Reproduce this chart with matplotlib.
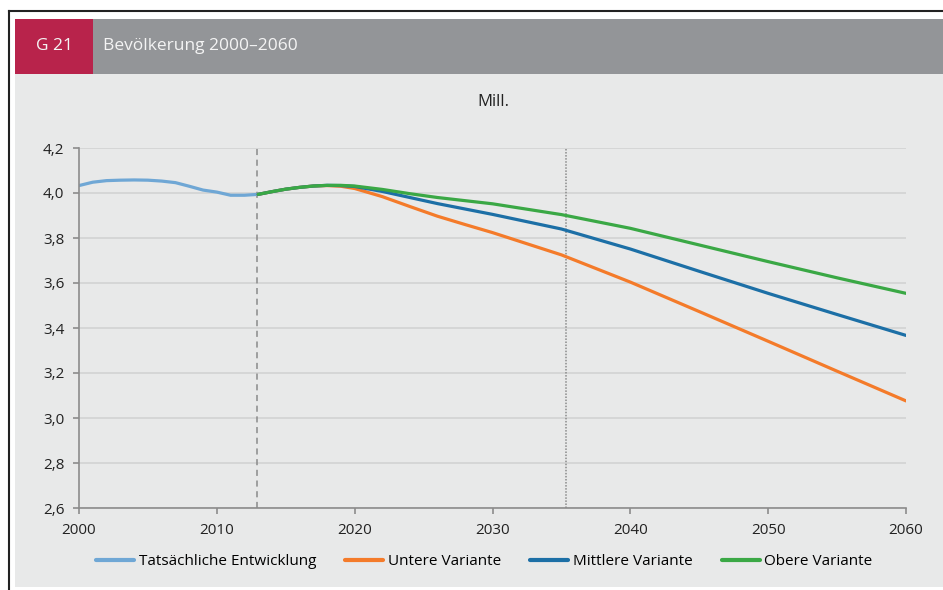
import matplotlib
matplotlib.use("Agg")
import matplotlib.pyplot as plt
from matplotlib.patches import Rectangle
from matplotlib.lines import Line2D
from matplotlib.ticker import FuncFormatter

plt.rcParams['font.family'] = ['Open Sans', 'DejaVu Sans']

# Tatsaechliche Entwicklung (Mill.)
years_actual = [2000, 2001, 2002, 2003, 2004, 2005, 2006, 2007, 2008, 2009, 2010, 2011, 2012, 2013]
actual = [4.033, 4.048, 4.055, 4.057, 4.058, 4.057, 4.053, 4.046, 4.030, 4.013, 4.004, 3.990, 3.990, 3.994]

# Vorausberechnung
years_proj = [2013, 2014, 2015, 2016, 2017, 2018, 2019, 2020, 2022, 2024, 2026, 2028, 2030,
              2035, 2040, 2045, 2050, 2055, 2060]
untere = [3.994, 4.006, 4.017, 4.025, 4.031, 4.033, 4.030, 4.020, 3.984, 3.940, 3.897, 3.860, 3.824,
          3.725, 3.604, 3.473, 3.341, 3.208, 3.076]
mittlere = [3.994, 4.006, 4.017, 4.025, 4.031, 4.034, 4.033, 4.029, 4.007, 3.980, 3.953, 3.929, 3.905,
            3.840, 3.751, 3.652, 3.554, 3.460, 3.367]
obere = [3.994, 4.006, 4.017, 4.025, 4.031, 4.034, 4.034, 4.031, 4.016, 3.997, 3.980, 3.966, 3.952,
         3.904, 3.843, 3.769, 3.695, 3.623, 3.554]

labels = ['Tatsächliche Entwicklung', 'Untere Variante', 'Mittlere Variante', 'Obere Variante']
colors = ['#6fa7d5', '#f47b2a', '#1c6fa6', '#3aa845']
base_year = 2012.9
mark_year = 2035.3

fig = plt.figure(figsize=(9.43, 5.9), dpi=100)
W, H = 943, 590

def box(x0, y0, x1, y1, color):
    fig.add_artist(Rectangle((x0 / W, 1 - y1 / H), (x1 - x0) / W, (y1 - y0) / H,
                             transform=fig.transFigure, color=color, lw=0, zorder=0))

# Rahmen und Kopfzeile
box(15, 74, 943, 587, '#e8e9e9')
box(15, 19, 93, 74, '#b8234b')
box(93, 19, 943, 74, '#939598')
fig.add_artist(Line2D([9 / W, 9 / W], [0, 1 - 11 / H], transform=fig.transFigure, color='#222222', lw=1.5))
fig.add_artist(Line2D([9 / W, 1], [1 - 11 / H, 1 - 11 / H], transform=fig.transFigure, color='#222222', lw=1.5))
fig.text(55 / W, 1 - 46 / H, 'G 21', color='#f4f4f4', fontsize=12.5, ha='center', va='center')
fig.text(103 / W, 1 - 46 / H, 'Bevölkerung 2000–2060', color='#f4f4f4', fontsize=12.5, ha='left', va='center')
fig.text(493 / W, 1 - 102 / H, 'Mill.', color='#222222', fontsize=12, ha='center', va='center')

ax = fig.add_axes([79 / W, 1 - 508 / H, (906 - 79) / W, (508 - 148) / H])
ax.set_facecolor('none')

ax.plot(years_actual, actual, color=colors[0], lw=2.3, label=labels[0], solid_capstyle='round')
ax.plot(years_proj, untere, color=colors[1], lw=2.3, label=labels[1], solid_capstyle='round')
ax.plot(years_proj, mittlere, color=colors[2], lw=2.3, label=labels[2], solid_capstyle='round')
ax.plot(years_proj, obere, color=colors[3], lw=2.3, label=labels[3], solid_capstyle='round')

ax.axvline(base_year, color='#8a8a8a', lw=1.1, ls=(0, (4, 3)), zorder=1)
ax.axvline(mark_year, color='#8a8a8a', lw=1.1, ls=(0, (1, 1)), zorder=1)

ax.set_xlim(2000, 2060)
ax.set_ylim(2.6, 4.2)
ax.set_xticks(range(2000, 2061, 10))
ax.set_yticks([2.6, 2.8, 3.0, 3.2, 3.4, 3.6, 3.8, 4.0, 4.2])
ax.yaxis.set_major_formatter(FuncFormatter(lambda v, p: f'{v:.1f}'.replace('.', ',')))
ax.grid(axis='y', color='#d2d3d3', lw=1.2, zorder=0)
ax.set_axisbelow(True)

for s in ['top', 'right']:
    ax.spines[s].set_visible(False)
for s in ['left', 'bottom']:
    ax.spines[s].set_color('#8c8c8c')
    ax.spines[s].set_linewidth(1.2)
ax.tick_params(axis='both', colors='#8c8c8c', labelcolor='#222222', labelsize=11, length=4.5, width=1.2, pad=6)

leg = ax.legend(loc='upper center', bbox_to_anchor=(0.49, -0.09), ncol=4, frameon=False,
                fontsize=11, handlelength=2.5, handletextpad=0.3, columnspacing=1.9)
for line in leg.get_lines():
    line.set_linewidth(3)

fig.savefig('out.png', dpi=100)
